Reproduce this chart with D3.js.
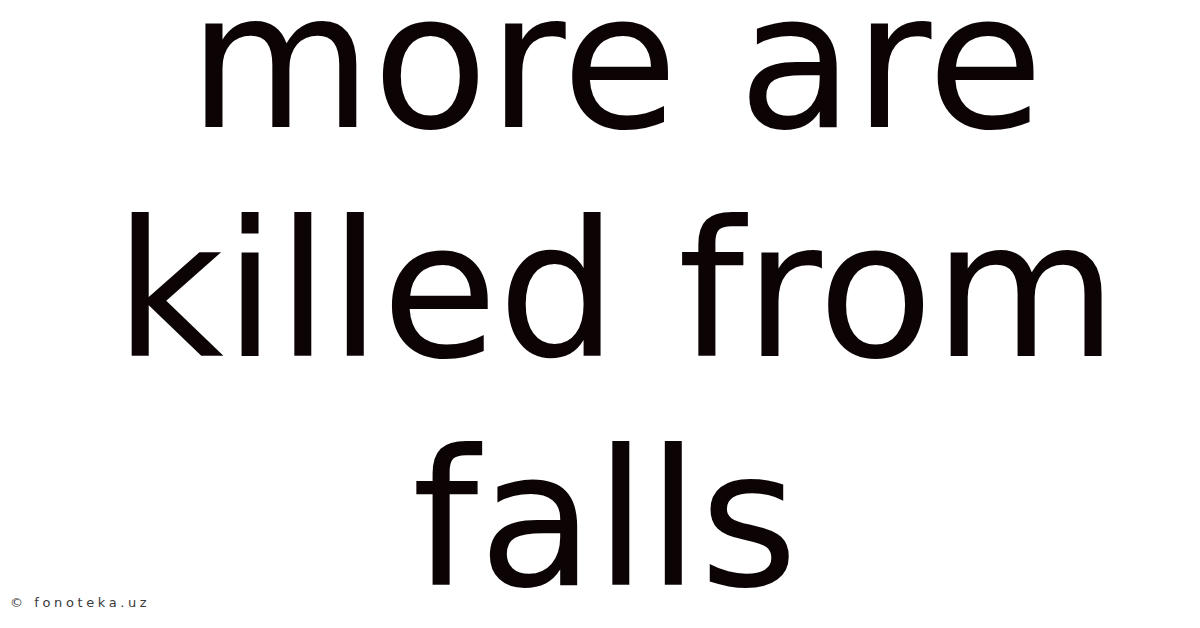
<!DOCTYPE html>
<html>
<head>
<meta charset="utf-8">
<script src="https://d3js.org/d3.v7.min.js"></script>
<style>
html,body{margin:0;padding:0;background:#fff;}
</style>
</head>
<body>
<div id="card"></div>
<script>
var w=1200;
var h=628;
var lines=["more are","killed from","falls"];
var baselines=[127,356,585];
var credit="© fonoteka.uz";

// small horizontal nudges so each line sits where the reference puts it
var nudge=[16,16,5];

var svg=d3.select("#card")
  .append("svg")
  .attr("width",w)
  .attr("height",h);
svg.append("rect")
  .attr("width",w)
  .attr("height",h)
  .attr("fill","#ffffff");

var y=d3.scaleOrdinal().domain(lines).range(baselines);

svg.selectAll("text.title")
  .data(lines)
  .enter()
  .append("text")
  .attr("class","title")
  .attr("x",function(d,i){return w/2+nudge[i];})
  .attr("y",function(d){return y(d);})
  .attr("text-anchor","middle")
  .style("font-family","'DejaVu Sans'")
  .style("font-size","189px")
  .style("fill","#0c0404")
  .text(function(d){return d;});

svg.append("text")
  .attr("x",10)
  .attr("y",607)
  .style("font-family","'DejaVu Sans'")
  .style("font-size","13px")
  .style("letter-spacing","3.6px")
  .style("fill","#3a3a3a")
  .text(credit);
</script>
</body>
</html>
